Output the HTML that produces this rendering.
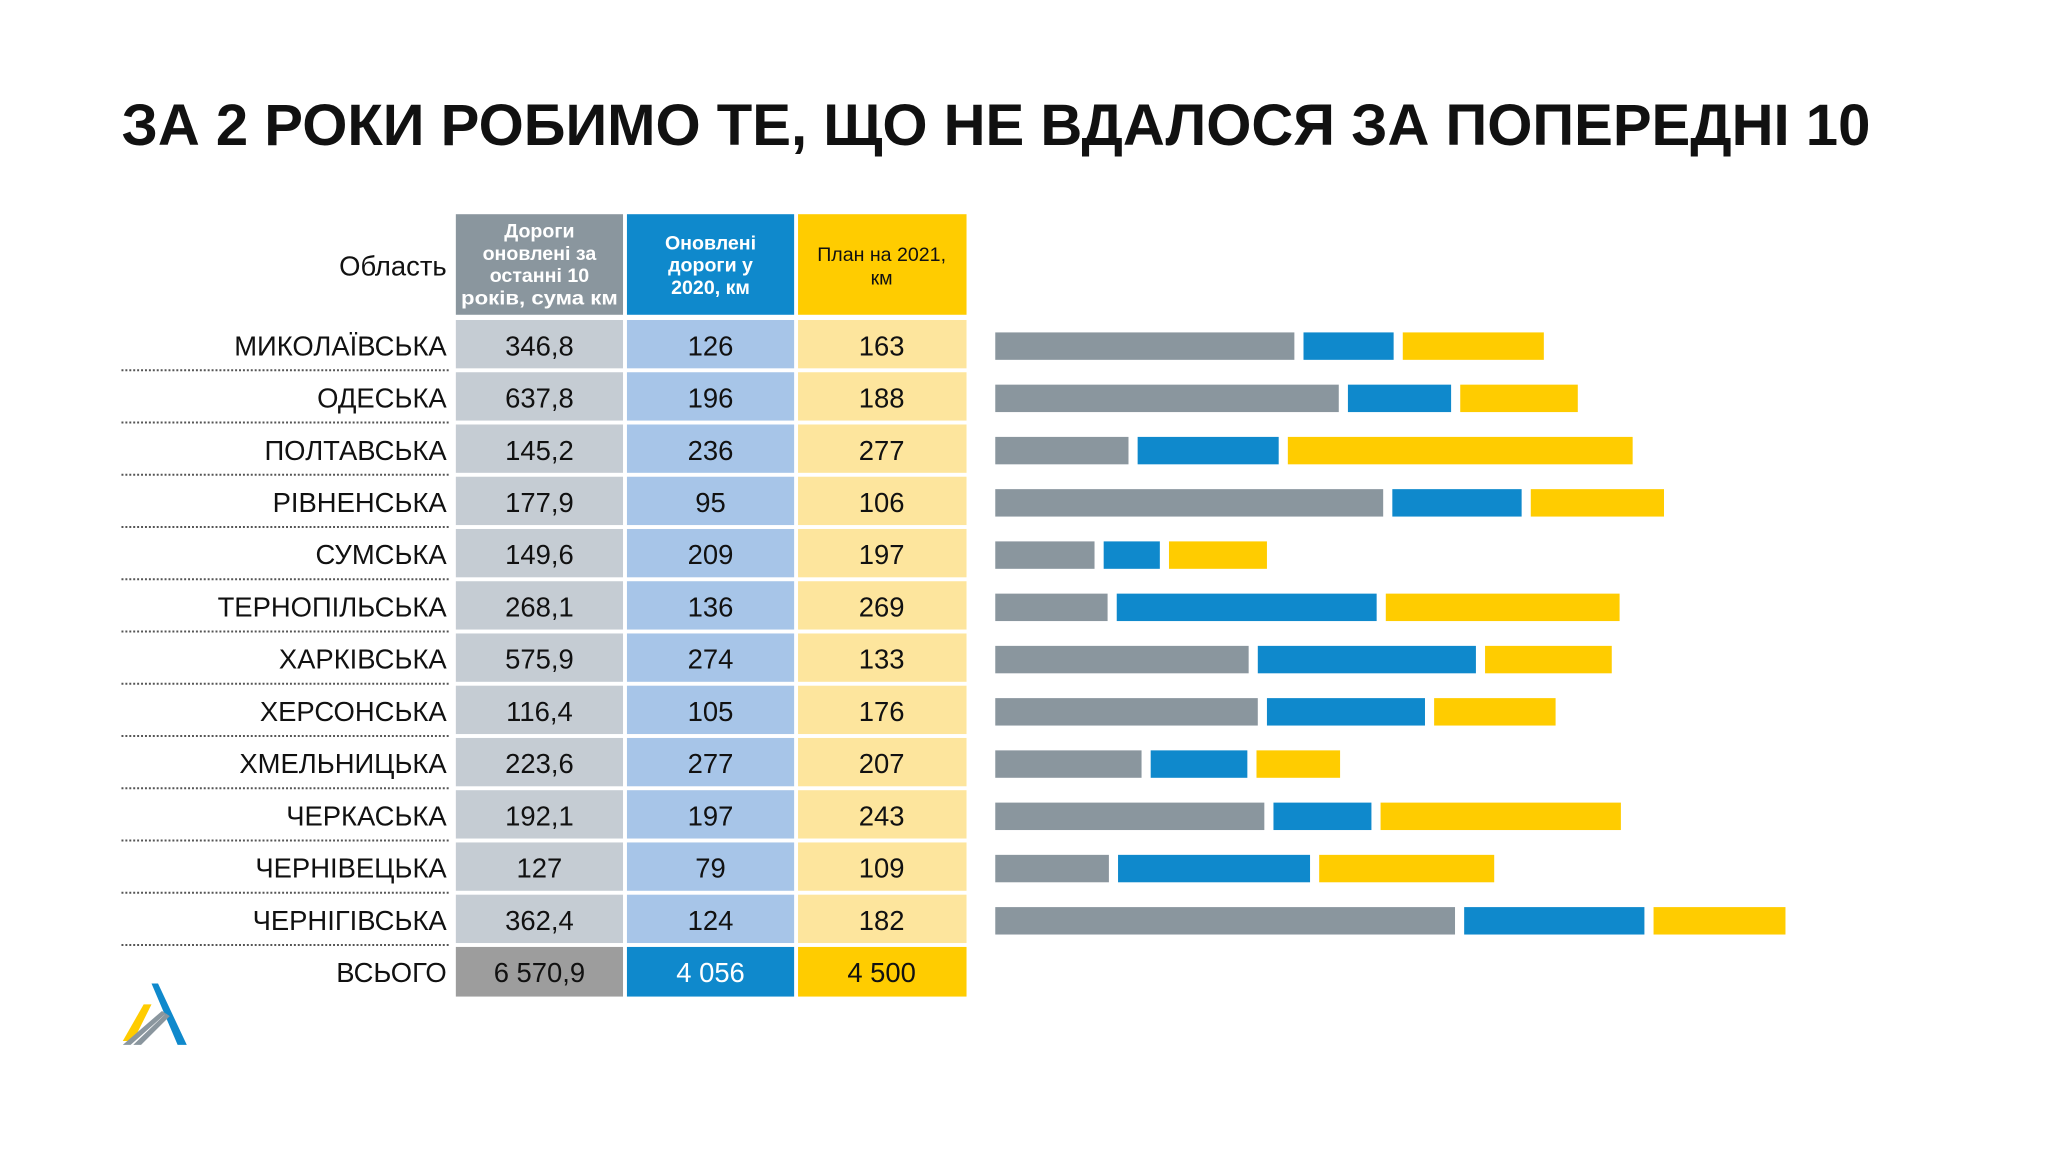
<!DOCTYPE html>
<html><head><meta charset="utf-8"><style>
html,body{margin:0;padding:0;background:#fff;}
svg{display:block;}
text{font-family:"Liberation Sans",sans-serif;}
</style></head><body>
<svg width="2048" height="1152" viewBox="0 0 1568 882" xmlns="http://www.w3.org/2000/svg">
<rect width="1568" height="882" fill="#fff"/>
<text x="93" y="111" font-size="45" font-weight="bold" fill="#111" textLength="1339" lengthAdjust="spacingAndGlyphs">ЗА 2 РОКИ РОБИМО ТЕ, ЩО НЕ ВДАЛОСЯ ЗА ПОПЕРЕДНІ 10</text>
<rect x="349" y="164" width="128" height="77" fill="#8a969e"/>
<rect x="480" y="164" width="128" height="77" fill="#0f89cc"/>
<rect x="611" y="164" width="129" height="77" fill="#ffcc00"/>
<g font-size="15" font-weight="bold" text-anchor="middle" fill="#fff">
<text x="413" y="182">Дороги</text><text x="413" y="199">оновлені за</text><text x="413" y="216">останні 10</text><text x="413" y="233" textLength="120" lengthAdjust="spacingAndGlyphs">років, сума км</text>
<text x="544" y="191">Оновлені</text><text x="544" y="208">дороги у</text><text x="544" y="225">2020, км</text>
<text x="675" y="200" fill="#111" font-weight="normal">План на 2021,</text><text x="675" y="218" fill="#111" font-weight="normal">км</text>
</g>
<text x="342" y="211" font-size="21" text-anchor="end" fill="#111">Область</text>
<g id="rows" font-size="21" fill="#111">
</g>
<script>
(function(){
var d=[["МИКОЛАЇВСЬКА","346,8","126","163",991,998,1067,1074,1182],
["ОДЕСЬКА","637,8","196","188",1025,1032,1111,1118,1208],
["ПОЛТАВСЬКА","145,2","236","277",864,871,979,986,1250],
["РІВНЕНСЬКА","177,9","95","106",1059,1066,1165,1172,1274],
["СУМСЬКА","149,6","209","197",838,845,888,895,970],
["ТЕРНОПІЛЬСЬКА","268,1","136","269",848,855,1054,1061,1240],
["ХАРКІВСЬКА","575,9","274","133",956,963,1130,1137,1234],
["ХЕРСОНСЬКА","116,4","105","176",963,970,1091,1098,1191],
["ХМЕЛЬНИЦЬКА","223,6","277","207",874,881,955,962,1026],
["ЧЕРКАСЬКА","192,1","197","243",968,975,1050,1057,1241],
["ЧЕРНІВЕЦЬКА","127","79","109",849,856,1003,1010,1144],
["ЧЕРНІГІВСЬКА","362,4","124","182",1114,1121,1259,1266,1367]];
var ns="http://www.w3.org/2000/svg",g=document.getElementById("rows");
function el(t,a,txt){var e=document.createElementNS(ns,t);for(var k in a)e.setAttribute(k,a[k]);if(txt!=null)e.textContent=txt;g.appendChild(e);}
d.forEach(function(r,i){var y=245+40*i,c=y+19,b=c+8;
el("rect",{x:349,y:y,width:128,height:37,fill:"#c5ccd3"});
el("rect",{x:480,y:y,width:128,height:37,fill:"#a7c5e8"});
el("rect",{x:611,y:y,width:129,height:37,fill:"#fde59d"});
el("text",{x:342,y:b,"text-anchor":"end"},r[0]);
el("text",{x:413,y:b,"text-anchor":"middle"},r[1]);
el("text",{x:544,y:b,"text-anchor":"middle"},r[2]);
el("text",{x:675,y:b,"text-anchor":"middle"},r[3]);
el("line",{x1:93,x2:345,y1:y+38.5,y2:y+38.5,stroke:"#555","stroke-width":1.5,"stroke-dasharray":"1.5 1.5"});
el("rect",{x:762,y:c-9.5,width:r[4]-762,height:21,fill:"#8a969e"});
el("rect",{x:r[5],y:c-9.5,width:r[6]-r[5],height:21,fill:"#0f89cc"});
el("rect",{x:r[7],y:c-9.5,width:r[8]-r[7],height:21,fill:"#ffcc00"});
});
var y=725,b=752;
el("rect",{x:349,y:y,width:128,height:38,fill:"#9d9d9d"});
el("rect",{x:480,y:y,width:128,height:38,fill:"#0f89cc"});
el("rect",{x:611,y:y,width:129,height:38,fill:"#ffcc00"});
el("text",{x:342,y:b,"text-anchor":"end"},"ВСЬОГО");
el("text",{x:413,y:b,"text-anchor":"middle"},"6 570,9");
el("text",{x:544,y:b,"text-anchor":"middle",fill:"#fff"},"4 056");
el("text",{x:675,y:b,"text-anchor":"middle"},"4 500");
})();
</script>
<polygon points="110,769 116,769 102,797 94,797" fill="#ffcc00"/>
<polygon points="116,753 121,753 143,800 136,800" fill="#0f89cc"/>
<polygon points="94,800 100,800 127,776 124,774" fill="#8a969e"/>
<polygon points="102,800 108,800 130,778 127,776" fill="#8a969e"/>
</svg>
</body></html>
